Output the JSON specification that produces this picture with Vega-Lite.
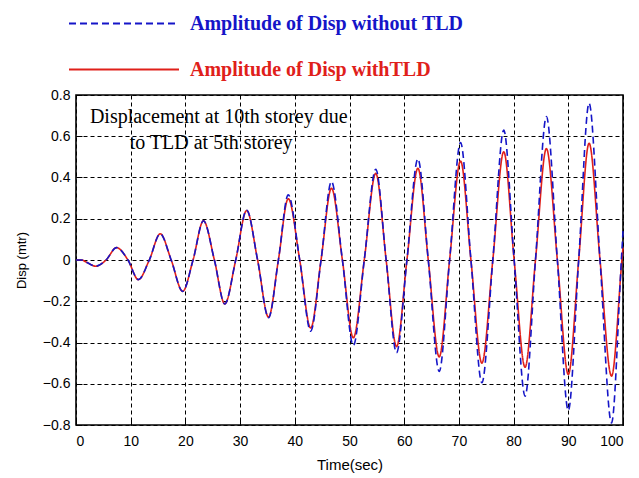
{
  "$schema": "https://vega.github.io/schema/vega-lite/v6.json",
  "width": 547,
  "height": 330,
  "autosize": {"type": "none"},
  "padding": {"left": 76, "top": 95, "right": 16, "bottom": 53},
  "background": "white",
  "config": {
    "view": {"stroke": "#000", "strokeWidth": 1.6},
    "axis": {
      "domain": false,
      "grid": true,
      "gridColor": "#000",
      "gridDash": [4, 3],
      "gridWidth": 1,
      "gridOpacity": 1,
      "tickColor": "#000",
      "tickSize": -6,
      "tickWidth": 1,
      "labelOverlap": false,
      "labelFont": "Liberation Sans",
      "labelFontSize": 14,
      "labelColor": "#000",
      "titleFont": "Liberation Sans",
      "titleFontWeight": "normal",
      "titleColor": "#000"
    }
  },
  "datasets": {
    "disp": [
      {"t": 0, "disp": 0, "series": "Amplitude of Disp withTLD"},
      {"t": 1, "disp": 0, "series": "Amplitude of Disp withTLD"},
      {"t": 2, "disp": -0.012, "series": "Amplitude of Disp withTLD"},
      {"t": 3.6, "disp": -0.03, "series": "Amplitude of Disp withTLD"},
      {"t": 5.5, "disp": 0, "series": "Amplitude of Disp withTLD"},
      {"t": 7.4, "disp": 0.06, "series": "Amplitude of Disp withTLD"},
      {"t": 9.5, "disp": 0, "series": "Amplitude of Disp withTLD"},
      {"t": 11.4, "disp": -0.095, "series": "Amplitude of Disp withTLD"},
      {"t": 13.4, "disp": 0, "series": "Amplitude of Disp withTLD"},
      {"t": 15.4, "disp": 0.127, "series": "Amplitude of Disp withTLD"},
      {"t": 17.4, "disp": 0, "series": "Amplitude of Disp withTLD"},
      {"t": 19.5, "disp": -0.152, "series": "Amplitude of Disp withTLD"},
      {"t": 21.4, "disp": 0, "series": "Amplitude of Disp withTLD"},
      {"t": 23.3, "disp": 0.19, "series": "Amplitude of Disp withTLD"},
      {"t": 25.3, "disp": 0, "series": "Amplitude of Disp withTLD"},
      {"t": 27.2, "disp": -0.213, "series": "Amplitude of Disp withTLD"},
      {"t": 29.2, "disp": 0, "series": "Amplitude of Disp withTLD"},
      {"t": 31.2, "disp": 0.24, "series": "Amplitude of Disp withTLD"},
      {"t": 33.2, "disp": 0, "series": "Amplitude of Disp withTLD"},
      {"t": 35.2, "disp": -0.277, "series": "Amplitude of Disp withTLD"},
      {"t": 37.0, "disp": 0, "series": "Amplitude of Disp withTLD"},
      {"t": 38.8, "disp": 0.297, "series": "Amplitude of Disp withTLD"},
      {"t": 40.9, "disp": 0, "series": "Amplitude of Disp withTLD"},
      {"t": 42.9, "disp": -0.33, "series": "Amplitude of Disp withTLD"},
      {"t": 44.8, "disp": 0, "series": "Amplitude of Disp withTLD"},
      {"t": 46.7, "disp": 0.348, "series": "Amplitude of Disp withTLD"},
      {"t": 48.7, "disp": 0, "series": "Amplitude of Disp withTLD"},
      {"t": 50.7, "disp": -0.377, "series": "Amplitude of Disp withTLD"},
      {"t": 52.7, "disp": 0, "series": "Amplitude of Disp withTLD"},
      {"t": 54.8, "disp": 0.42, "series": "Amplitude of Disp withTLD"},
      {"t": 56.7, "disp": 0, "series": "Amplitude of Disp withTLD"},
      {"t": 58.6, "disp": -0.42, "series": "Amplitude of Disp withTLD"},
      {"t": 60.5, "disp": 0, "series": "Amplitude of Disp withTLD"},
      {"t": 62.5, "disp": 0.445, "series": "Amplitude of Disp withTLD"},
      {"t": 64.4, "disp": 0, "series": "Amplitude of Disp withTLD"},
      {"t": 66.4, "disp": -0.47, "series": "Amplitude of Disp withTLD"},
      {"t": 68.3, "disp": 0, "series": "Amplitude of Disp withTLD"},
      {"t": 70.3, "disp": 0.48, "series": "Amplitude of Disp withTLD"},
      {"t": 72.2, "disp": 0, "series": "Amplitude of Disp withTLD"},
      {"t": 74.2, "disp": -0.5, "series": "Amplitude of Disp withTLD"},
      {"t": 76.2, "disp": 0, "series": "Amplitude of Disp withTLD"},
      {"t": 78.2, "disp": 0.525, "series": "Amplitude of Disp withTLD"},
      {"t": 80.1, "disp": 0, "series": "Amplitude of Disp withTLD"},
      {"t": 82.1, "disp": -0.52, "series": "Amplitude of Disp withTLD"},
      {"t": 84.0, "disp": 0, "series": "Amplitude of Disp withTLD"},
      {"t": 86.0, "disp": 0.54, "series": "Amplitude of Disp withTLD"},
      {"t": 88.0, "disp": 0, "series": "Amplitude of Disp withTLD"},
      {"t": 90.0, "disp": -0.555, "series": "Amplitude of Disp withTLD"},
      {"t": 91.9, "disp": 0, "series": "Amplitude of Disp withTLD"},
      {"t": 93.8, "disp": 0.566, "series": "Amplitude of Disp withTLD"},
      {"t": 95.8, "disp": 0, "series": "Amplitude of Disp withTLD"},
      {"t": 97.9, "disp": -0.563, "series": "Amplitude of Disp withTLD"},
      {"t": 99.8, "disp": 0, "series": "Amplitude of Disp withTLD"},
      {"t": 100, "disp": 0.06, "series": "Amplitude of Disp withTLD"},

      {"t": 0, "disp": 0, "series": "Amplitude of Disp without TLD"},
      {"t": 1, "disp": 0, "series": "Amplitude of Disp without TLD"},
      {"t": 2, "disp": -0.012, "series": "Amplitude of Disp without TLD"},
      {"t": 3.6, "disp": -0.03, "series": "Amplitude of Disp without TLD"},
      {"t": 5.5, "disp": 0, "series": "Amplitude of Disp without TLD"},
      {"t": 7.4, "disp": 0.06, "series": "Amplitude of Disp without TLD"},
      {"t": 9.5, "disp": 0, "series": "Amplitude of Disp without TLD"},
      {"t": 11.4, "disp": -0.095, "series": "Amplitude of Disp without TLD"},
      {"t": 13.4, "disp": 0, "series": "Amplitude of Disp without TLD"},
      {"t": 15.4, "disp": 0.127, "series": "Amplitude of Disp without TLD"},
      {"t": 17.4, "disp": 0, "series": "Amplitude of Disp without TLD"},
      {"t": 19.5, "disp": -0.152, "series": "Amplitude of Disp without TLD"},
      {"t": 21.4, "disp": 0, "series": "Amplitude of Disp without TLD"},
      {"t": 23.3, "disp": 0.19, "series": "Amplitude of Disp without TLD"},
      {"t": 25.3, "disp": 0, "series": "Amplitude of Disp without TLD"},
      {"t": 27.2, "disp": -0.213, "series": "Amplitude of Disp without TLD"},
      {"t": 29.2, "disp": 0, "series": "Amplitude of Disp without TLD"},
      {"t": 31.2, "disp": 0.242, "series": "Amplitude of Disp without TLD"},
      {"t": 33.2, "disp": 0, "series": "Amplitude of Disp without TLD"},
      {"t": 35.2, "disp": -0.28, "series": "Amplitude of Disp without TLD"},
      {"t": 37.0, "disp": 0, "series": "Amplitude of Disp without TLD"},
      {"t": 38.8, "disp": 0.316, "series": "Amplitude of Disp without TLD"},
      {"t": 40.9, "disp": 0, "series": "Amplitude of Disp without TLD"},
      {"t": 42.9, "disp": -0.345, "series": "Amplitude of Disp without TLD"},
      {"t": 44.8, "disp": 0, "series": "Amplitude of Disp without TLD"},
      {"t": 46.7, "disp": 0.38, "series": "Amplitude of Disp without TLD"},
      {"t": 48.7, "disp": 0, "series": "Amplitude of Disp without TLD"},
      {"t": 50.7, "disp": -0.415, "series": "Amplitude of Disp without TLD"},
      {"t": 52.7, "disp": 0, "series": "Amplitude of Disp without TLD"},
      {"t": 54.8, "disp": 0.44, "series": "Amplitude of Disp without TLD"},
      {"t": 56.7, "disp": 0, "series": "Amplitude of Disp without TLD"},
      {"t": 58.6, "disp": -0.45, "series": "Amplitude of Disp without TLD"},
      {"t": 60.5, "disp": 0, "series": "Amplitude of Disp without TLD"},
      {"t": 62.5, "disp": 0.49, "series": "Amplitude of Disp without TLD"},
      {"t": 64.4, "disp": 0, "series": "Amplitude of Disp without TLD"},
      {"t": 66.4, "disp": -0.54, "series": "Amplitude of Disp without TLD"},
      {"t": 68.3, "disp": 0, "series": "Amplitude of Disp without TLD"},
      {"t": 70.3, "disp": 0.57, "series": "Amplitude of Disp without TLD"},
      {"t": 72.2, "disp": 0, "series": "Amplitude of Disp without TLD"},
      {"t": 74.2, "disp": -0.595, "series": "Amplitude of Disp without TLD"},
      {"t": 76.2, "disp": 0, "series": "Amplitude of Disp without TLD"},
      {"t": 78.2, "disp": 0.63, "series": "Amplitude of Disp without TLD"},
      {"t": 80.1, "disp": 0, "series": "Amplitude of Disp without TLD"},
      {"t": 82.1, "disp": -0.66, "series": "Amplitude of Disp without TLD"},
      {"t": 84.0, "disp": 0, "series": "Amplitude of Disp without TLD"},
      {"t": 86.0, "disp": 0.695, "series": "Amplitude of Disp without TLD"},
      {"t": 88.0, "disp": 0, "series": "Amplitude of Disp without TLD"},
      {"t": 90.0, "disp": -0.73, "series": "Amplitude of Disp without TLD"},
      {"t": 91.9, "disp": 0, "series": "Amplitude of Disp without TLD"},
      {"t": 93.8, "disp": 0.76, "series": "Amplitude of Disp without TLD"},
      {"t": 95.8, "disp": 0, "series": "Amplitude of Disp without TLD"},
      {"t": 97.9, "disp": -0.79, "series": "Amplitude of Disp without TLD"},
      {"t": 99.7, "disp": 0, "series": "Amplitude of Disp without TLD"},
      {"t": 100, "disp": 0.14, "series": "Amplitude of Disp without TLD"}
    ],
    "notes": [
      {"line": "Displacement at 10th storey due"}
    ],
    "notes2": [
      {"line": "to TLD at 5th storey"}
    ]
  },
  "layer": [
    {
      "data": {"name": "disp"},
      "transform": [{"filter": "datum.series == 'Amplitude of Disp withTLD'"}],
      "mark": {"type": "line", "interpolate": "monotone", "strokeWidth": 1.6},
      "encoding": {
        "x": {
          "field": "t",
          "type": "quantitative",
          "scale": {"domain": [0, 100], "nice": false, "zero": false},
          "axis": {"title": "Time(sec)", "values": [0,10,20,30,40,50,60,70,80,90,100], "labelPadding": 15, "titleFontSize": 15, "titlePadding": 9}
        },
        "y": {
          "field": "disp",
          "type": "quantitative",
          "scale": {"domain": [-0.8, 0.8], "nice": false},
          "axis": {"title": "Disp (mtr)", "values": [-0.8,-0.6,-0.4,-0.2,0,0.2,0.4,0.6,0.8], "format": "~g", "labelPadding": 12, "titleFontSize": 13, "titlePadding": 14}
        },
        "color": {
          "field": "series",
          "type": "nominal",
          "scale": {"domain": ["Amplitude of Disp without TLD", "Amplitude of Disp withTLD"], "range": ["#1515c8", "#e0201a"]},
          "legend": {
            "orient": "none",
            "legendX": -8,
            "legendY": -93,
            "title": null,
            "symbolType": "stroke",
            "symbolSize": 12100,
            "symbolStrokeWidth": 2,
            "clipHeight": 43,
            "rowPadding": 3,
            "labelFont": "Liberation Serif",
            "labelFontSize": 20,
            "labelFontWeight": "bold",
            "labelLimit": 0,
            "labelOffset": 10,
            "encode": {
              "labels": {"update": {"fill": {"signal": "datum.label == 'Amplitude of Disp without TLD' ? '#1515c8' : '#e0201a'"}}},
              "symbols": {"update": {"strokeDash": {"signal": "datum.label == 'Amplitude of Disp without TLD' ? [24, 18] : [1, 0]"}}}
            }
          }
        },
        "strokeDash": {
          "field": "series",
          "type": "nominal",
          "scale": {"domain": ["Amplitude of Disp without TLD", "Amplitude of Disp withTLD"], "range": [[7, 4], [1, 0]]},
          "legend": null
        }
      }
    },
    {
      "data": {"name": "disp"},
      "transform": [{"filter": "datum.series == 'Amplitude of Disp without TLD'"}],
      "mark": {"type": "line", "interpolate": "monotone", "strokeWidth": 1.6},
      "encoding": {
        "x": {"field": "t", "type": "quantitative"},
        "y": {"field": "disp", "type": "quantitative"},
        "color": {"field": "series", "type": "nominal"},
        "strokeDash": {"field": "series", "type": "nominal"}
      }
    },
    {
      "data": {"name": "notes"},
      "mark": {"type": "text", "font": "Liberation Serif", "fontSize": 20, "fill": "#000", "align": "center", "baseline": "middle"},
      "encoding": {"x": {"datum": 26.1}, "y": {"datum": 0.695}, "text": {"field": "line"}}
    },
    {
      "data": {"name": "notes2"},
      "mark": {"type": "text", "font": "Liberation Serif", "fontSize": 20, "fill": "#000", "align": "center", "baseline": "middle"},
      "encoding": {"x": {"datum": 24.7}, "y": {"datum": 0.565}, "text": {"field": "line"}}
    }
  ]
}
